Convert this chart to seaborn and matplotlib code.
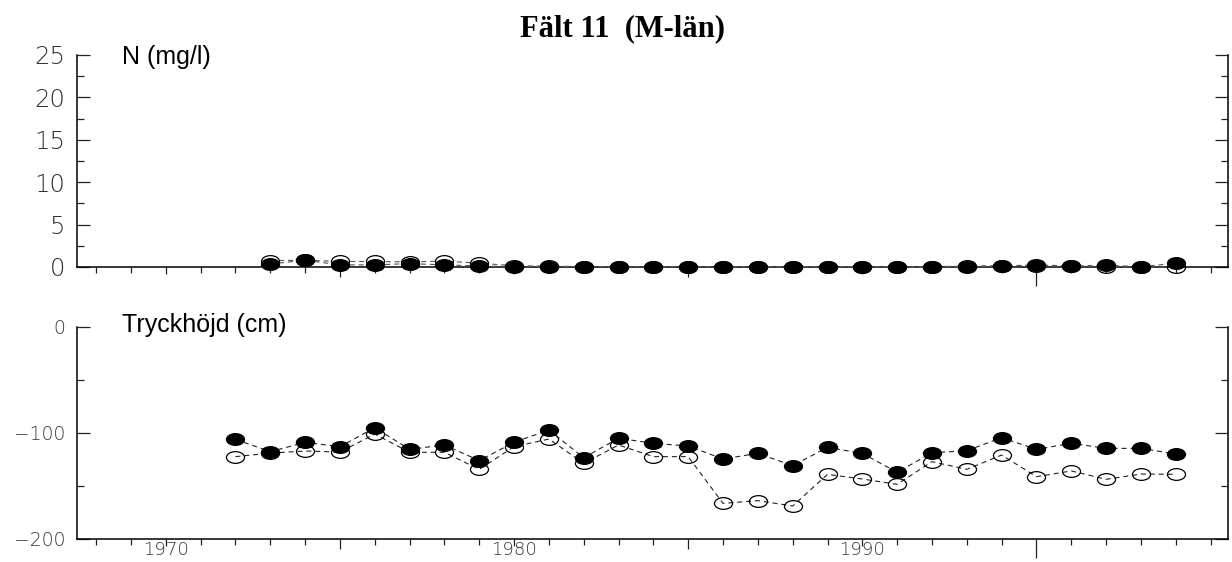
import numpy as np
import pandas as pd
import matplotlib
matplotlib.use("Agg")
import matplotlib.pyplot as plt
from matplotlib.path import Path
from matplotlib.transforms import Affine2D
from matplotlib.ticker import FixedLocator, FixedFormatter, MultipleLocator, NullFormatter
import seaborn as sns

# ---- data -------------------------------------------------------------
years_n = [1973, 1974, 1975, 1976, 1977, 1978, 1979, 1980, 1981, 1982,
           1983, 1984, 1985, 1986, 1987, 1988, 1989, 1990, 1991, 1992,
           1993, 1994, 1995, 1996, 1997, 1998, 1999]
n_open = [0.75, 0.8, 0.65, 0.65, 0.6, 0.7, 0.45, 0.15, 0.1, 0.05,
          0.05, 0.05, 0.05, 0.05, 0.05, 0.05, 0.05, 0.05, 0.05, 0.05,
          0.1, 0.15, 0.15, 0.1, 0.05, 0.05, 0.0]
n_filled = [0.35, 0.8, 0.25, 0.25, 0.4, 0.25, 0.12, 0.05, 0.05, 0.05,
            0.05, 0.05, 0.05, 0.05, 0.05, 0.05, 0.05, 0.05, 0.0, 0.0,
            0.05, 0.12, 0.25, 0.12, 0.2, 0.05, 0.43]

years_p = [1972, 1973, 1974, 1975, 1976, 1977, 1978, 1979, 1980, 1981,
           1982, 1983, 1984, 1985, 1986, 1987, 1988, 1989, 1990, 1991,
           1992, 1993, 1994, 1995, 1996, 1997, 1998, 1999]
p_open = [-122.3, -119.0, -117.0, -118.0, -101.0, -118.2, -118.2, -134.3, -112.9, -105.7,
          -128.6, -111.3, -122.3, -122.3, -166.4, -163.8, -168.9, -139.0, -143.4, -148.4,
          -127.0, -134.3, -120.8, -141.2, -135.8, -143.7, -138.7, -139.0]
p_filled = [-106.0, -117.6, -108.8, -112.9, -95.0, -115.4, -111.3, -126.0, -108.8, -97.2,
            -123.3, -105.0, -109.7, -112.3, -124.5, -119.2, -130.8, -113.6, -119.2, -137.1,
            -118.6, -116.7, -104.4, -115.4, -109.7, -114.5, -114.5, -119.8]

title = "Fält 11  (M-län)"
label_n = "N (mg/l)"
label_p = "Tryckhöjd (cm)"
xtick_years = [1970, 1975, 1980, 1985, 1990, 1995]
xtick_labels = ["1970", "", "1980", "", "1990", ""]

# ---- style ------------------------------------------------------------
sns.set_theme(style="white")
plt.rcParams["font.family"] = ["DejaVu Sans"]

PX = 72 / 100  # one pixel in points at dpi 100
ellipse = Path(Affine2D().scale(1.0, 0.65).transform(Path.unit_circle().vertices),
               Path.unit_circle().codes)
dash = (0, (4.5, 3.5))

fig = plt.figure(figsize=(12.32, 5.62), dpi=100)
ax_n = fig.add_axes([77 / 1232, 1 - 267 / 562, (1228 - 77) / 1232, 212 / 562])
ax_p = fig.add_axes([77 / 1232, 1 - 539 / 562, (1228 - 77) / 1232, 212 / 562])


def draw_series(ax, x, y_open, y_filled, line_color):
    df_o = pd.DataFrame({"year": x, "value": y_open})
    df_f = pd.DataFrame({"year": x, "value": y_filled})
    sns.lineplot(data=df_o, x="year", y="value", ax=ax, color=line_color,
                 linewidth=0.8, linestyle=dash, marker=ellipse, markersize=13,
                 markerfacecolor="none", markeredgecolor="black",
                 markeredgewidth=0.9, clip_on=False, zorder=3)
    sns.lineplot(data=df_f, x="year", y="value", ax=ax, color=line_color,
                 linewidth=0.8, linestyle=dash, marker=ellipse, markersize=13,
                 markerfacecolor="black", markeredgecolor="black",
                 markeredgewidth=0.9, clip_on=False, zorder=4)


draw_series(ax_n, years_n, n_open, n_filled, "#555555")
draw_series(ax_p, years_p, p_open, p_filled, "#222222")

x_tick_len = {1970: 7, 1975: 10, 1980: 7, 1985: 10, 1990: 7, 1995: 19}

for ax, ylim, major, minor, ysize, show_x in [
        (ax_n, (0, 25), 5, 2.5, 17.5, False),
        (ax_p, (-200, 0), 100, 50, 13.5, True)]:
    ax.set_xlim(1967.45, 2000.5)
    ax.set_ylim(*ylim)
    ax.set_xlabel("")
    ax.set_ylabel("")
    ax.grid(False)
    ax.set_facecolor("white")
    ax.spines["top"].set_visible(False)
    for side in ("left", "right", "bottom"):
        ax.spines[side].set_color("black")
        ax.spines[side].set_linewidth(1.1)
        ax.spines[side].set_zorder(2)

    ax.yaxis.set_major_locator(MultipleLocator(major))
    ax.yaxis.set_minor_locator(MultipleLocator(minor))
    ax.tick_params(axis="y", which="both", direction="in", left=True, right=True,
                   labelleft=True, labelright=False, color="#222222", width=0.9)
    ax.tick_params(axis="y", which="major", length=13 * PX, pad=12 * PX,
                   labelsize=ysize, labelcolor="#333333")
    ax.tick_params(axis="y", which="minor", length=7 * PX)

    ax.xaxis.set_major_locator(FixedLocator(xtick_years))
    ax.xaxis.set_minor_locator(MultipleLocator(1))
    if show_x:
        ax.xaxis.set_major_formatter(FixedFormatter(xtick_labels))
    else:
        ax.xaxis.set_major_formatter(NullFormatter())
    ax.tick_params(axis="x", which="both", direction="out", bottom=True, top=False,
                   color="#222222", width=0.9)
    ax.tick_params(axis="x", which="major", length=2 * PX, pad=0,
                   labelsize=13, labelcolor="#333333")
    ax.tick_params(axis="x", which="minor", length=6 * PX)

    for lab in ax.get_xticklabels() + ax.get_yticklabels():
        lab.set_fontweight("light")

    # individual lengths for the decade and half-decade ticks
    for loc, tick in zip(ax.xaxis.get_majorticklocs(), ax.xaxis.get_major_ticks()):
        tick.tick1line.set_markersize(x_tick_len[int(round(loc))] * PX)

ax_n.text(0.039, 0.957, label_n, transform=ax_n.transAxes, ha="left", va="baseline",
          fontsize=18, family=["Liberation Sans", "DejaVu Sans"], color="black")
ax_p.text(0.039, 0.976, label_p, transform=ax_p.transAxes, ha="left", va="baseline",
          fontsize=18, family=["Liberation Sans", "DejaVu Sans"], color="black")

fig.text(0.505, 1 - 36 / 562, title, ha="center", va="baseline", fontsize=22,
         fontweight="bold", family=["Liberation Serif", "DejaVu Serif"], color="black")

fig.savefig("out.png", dpi=100, facecolor="white")
